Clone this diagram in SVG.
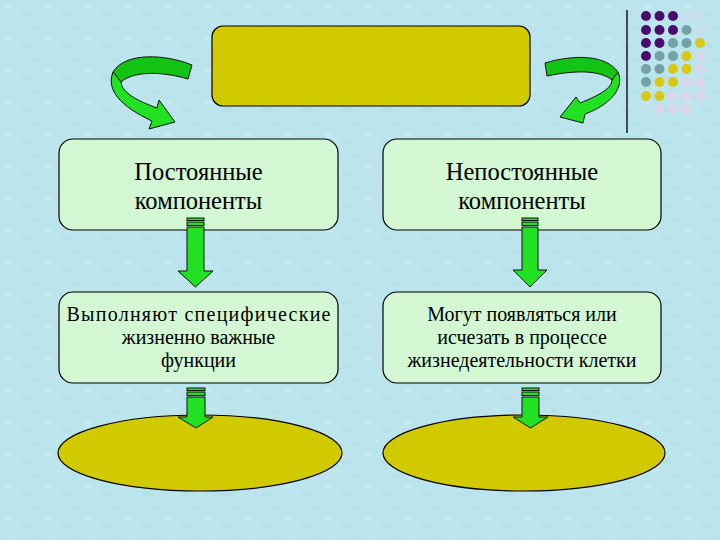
<svg xmlns="http://www.w3.org/2000/svg" width="720" height="540" viewBox="0 0 720 540">
<defs>
<style>
.box{fill:#d2f7d2;stroke:#000;stroke-width:1.2}
.yel{fill:#d2ca00;stroke:#000;stroke-width:1.2}
.arr{fill:#22e022;stroke:#111;stroke-width:1}
.arrb{fill:#14c414;stroke:#111;stroke-width:1}
.t1{font-family:'Liberation Serif','Times New Roman','DejaVu Serif',serif;font-size:24.5px;fill:#000;text-anchor:middle}
.t2{font-family:'Liberation Serif','Times New Roman','DejaVu Serif',serif;font-size:20px;fill:#000;text-anchor:middle}
.p{fill:#4a0c6c}.g{fill:#72a2a6}.y{fill:#d8c814}.l{fill:#dcd6ea}
</style>
<pattern id="tex" width="40" height="32" patternUnits="userSpaceOnUse">
<rect width="40" height="32" fill="#bce4ec"/>
<ellipse cx="8" cy="7" rx="5" ry="3" fill="#c4e8ef"/>
<ellipse cx="27" cy="14" rx="6" ry="3" fill="#b6e0e8"/>
<ellipse cx="15" cy="24" rx="5" ry="2.5" fill="#c2e7ee"/>
<ellipse cx="34" cy="27" rx="4" ry="2" fill="#b7e1e9"/>
</pattern>
</defs>
<rect width="720" height="540" fill="url(#tex)"/>

<g id="decor">
<line x1="627" y1="10" x2="627" y2="133" stroke="#1a1a1a" stroke-width="1.5"/>
<g>
<circle class="p" cx="646" cy="16" r="5"/><circle class="p" cx="659.5" cy="16" r="5"/><circle class="p" cx="673" cy="16" r="5"/><circle class="l" cx="686.5" cy="16" r="5" opacity="0.5"/><circle class="l" cx="700" cy="16" r="5" opacity="0.4"/>
<circle class="p" cx="646" cy="30" r="5"/><circle class="p" cx="659.5" cy="30" r="5"/><circle class="p" cx="673" cy="30" r="5"/><circle class="g" cx="686.5" cy="30" r="5"/><circle class="l" cx="700" cy="30" r="5" opacity="0.5"/>
<circle class="p" cx="646" cy="43" r="5"/><circle class="p" cx="659.5" cy="43" r="5"/><circle class="g" cx="673" cy="43" r="5"/><circle class="g" cx="686.5" cy="43" r="5"/><circle class="y" cx="700" cy="43" r="5"/>
<circle class="p" cx="646" cy="56" r="5"/><circle class="g" cx="659.5" cy="56" r="5"/><circle class="g" cx="673" cy="56" r="5"/><circle class="y" cx="686.5" cy="56" r="5"/><circle class="l" cx="700" cy="56" r="5"/>
<circle class="g" cx="646" cy="69" r="5"/><circle class="g" cx="659.5" cy="69" r="5"/><circle class="y" cx="673" cy="69" r="5"/><circle class="y" cx="686.5" cy="69" r="5"/><circle class="l" cx="700" cy="69" r="5"/>
<circle class="g" cx="646" cy="82" r="5"/><circle class="y" cx="659.5" cy="82" r="5"/><circle class="y" cx="673" cy="82" r="5"/><circle class="l" cx="686.5" cy="82" r="5"/><circle class="l" cx="700" cy="82" r="5"/>
<circle class="y" cx="646" cy="96" r="5"/><circle class="y" cx="659.5" cy="96" r="5"/><circle class="l" cx="673" cy="96" r="5"/><circle class="l" cx="686.5" cy="96" r="5"/><circle class="l" cx="700" cy="96" r="5"/>
<circle class="l" cx="659.5" cy="109" r="5"/><circle class="l" cx="673" cy="109" r="5"/><circle class="l" cx="686.5" cy="109" r="5"/>
</g>
</g>

<g id="top"><rect class="yel" x="212" y="26" width="318" height="80" rx="11"/></g>
<g id="perm"><rect class="box" x="59" y="139" width="279" height="91" rx="14"/>
<text class="t1" x="198.5" y="180">Постоянные</text><text class="t1" x="198.5" y="209">компоненты</text></g>
<g id="nonperm"><rect class="box" x="383" y="139" width="278" height="91" rx="14"/>
<text class="t1" x="522" y="180">Непостоянные</text><text class="t1" x="522" y="209">компоненты</text></g>
<g id="permfunc"><rect class="box" x="59" y="292" width="279" height="91" rx="14"/>
<text class="t2" x="198.5" y="321" textLength="264" lengthAdjust="spacing">Выполняют специфические</text><text class="t2" x="198.5" y="344">жизненно важные</text><text class="t2" x="198.5" y="367">функции</text></g>
<g id="nonpermfunc"><rect class="box" x="383" y="292" width="278" height="91" rx="14"/>
<text class="t2" x="522" y="321">Могут появляться или</text><text class="t2" x="522" y="344">исчезать в процессе</text><text class="t2" x="522" y="367">жизнедеятельности клетки</text></g>
<g id="ellipseL"><ellipse class="yel" cx="200" cy="453" rx="142" ry="38"/></g>
<g id="ellipseR"><ellipse class="yel" cx="524" cy="453" rx="141" ry="38"/></g>

<g id="connectors">
<path class="arrb" d="M192,65 C165,54 125,52 113,72 L121,82 C135,70 165,72 188,79 Z"/>
<path class="arr" d="M113,72 C106,90 120,106 152,121 L149,129 L175,122 L159,100 L157,108 C135,100 122,92 121,82 Z"/>
<path class="arrb" d="M545,63 C575,54 606,55 618,72 L612,80 C600,70 575,70 547,76 Z"/>
<path class="arr" d="M618,72 C625,88 610,105 585,114 L583,123 L560,117 L576,97 L580,103 C600,95 612,88 612,80 Z"/>

<rect class="arr" x="187" y="218" width="17" height="2.5"/><rect class="arr" x="187" y="222" width="17" height="3.5"/>
<path class="arr" d="M187,227 H204 V271 H213 L195.5,287 L178,271 H187 Z"/>
<rect class="arr" x="522" y="218" width="16" height="2.5"/><rect class="arr" x="522" y="222" width="16" height="3.5"/>
<path class="arr" d="M522,227 H538 V270 H547 L530,287 L513,270 H522 Z"/>
<rect class="arr" x="187" y="388" width="18" height="2.5"/><rect class="arr" x="187" y="392" width="18" height="3.5"/>
<path class="arr" d="M187,397 H205 V417 H213 L196,428 L178,417 H187 Z"/>
<rect class="arr" x="522" y="388" width="17" height="2.5"/><rect class="arr" x="522" y="392" width="17" height="3.5"/>
<path class="arr" d="M522,397 H539 V417 H548 L530.5,428 L513,417 H522 Z"/>
</g>
</svg>
